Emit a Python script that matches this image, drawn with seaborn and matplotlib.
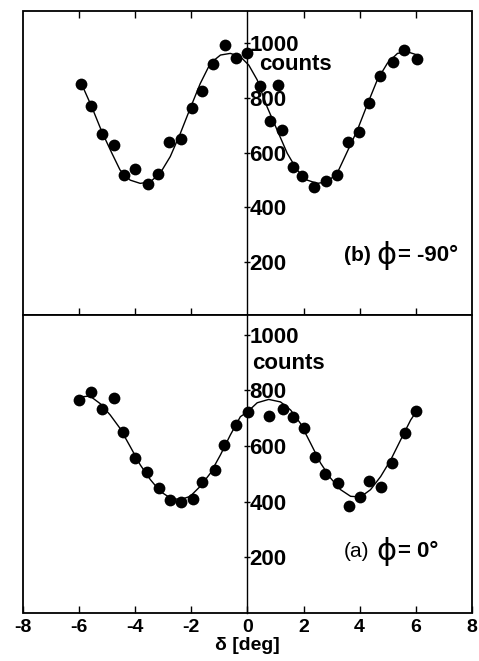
import numpy as np
import pandas as pd
import matplotlib
matplotlib.use("Agg")
import matplotlib.pyplot as plt
from matplotlib.patches import Rectangle
import seaborn as sns

# ─── DATA ──────────────────────────────────────────────────────────────────────
# panel (b), phi = -90 deg : measured counts
b_delta = [-5.93, -5.58, -5.17, -4.75, -4.39, -3.99, -3.56, -3.17, -2.79, -2.38,
           -1.98, -1.62, -1.24, -0.79, -0.40, 0.00, 0.46, 0.81, 1.10, 1.24,
           1.61, 1.96, 2.39, 2.79, 3.20, 3.60, 3.99, 4.35, 4.71, 5.19, 5.57, 6.03]
b_counts = [850, 771, 668, 629, 520, 539, 485, 521, 641, 652,
            764, 825, 926, 994, 947, 965, 845, 717, 846, 682,
            547, 516, 476, 498, 520, 638, 674, 782, 881, 933, 977, 941]

# panel (b) fitted curve
b_fit_delta = [-5.95, -5.55, -5.19, -4.83, -4.54, -4.18, -3.82, -3.46, -3.11, -2.75,
               -2.39, -2.04, -1.68, -1.32, -0.96, -0.61, -0.25, 0.05, 0.35, 0.70,
               1.06, 1.42, 1.77, 2.13, 2.49, 2.85, 3.20, 3.56, 3.92, 4.27,
               4.63, 4.99, 5.35, 5.70, 6.06]
b_fit_counts = [860, 768, 677, 598, 537, 500, 488, 494, 525, 586,
                671, 762, 853, 927, 957, 963, 951, 920, 866, 768,
                683, 598, 537, 500, 488, 494, 525, 604, 683, 775,
                866, 927, 963, 969, 957]

# panel (a), phi = 0 deg : measured counts
a_delta = [-6.00, -5.58, -5.19, -4.77, -4.44, -4.00, -3.57, -3.14, -2.76, -2.38,
           -1.94, -1.63, -1.17, -0.82, -0.42, 0.01, 0.77, 1.27, 1.62, 2.01,
           2.42, 2.75, 3.23, 3.62, 4.01, 4.35, 4.75, 5.15, 5.62, 6.02]
a_counts = [764, 794, 731, 771, 650, 556, 508, 449, 405, 399,
            411, 469, 515, 605, 674, 722, 708, 732, 705, 663,
            560, 498, 467, 386, 415, 475, 451, 540, 647, 725]

# panel (a) fitted curve
a_fit_delta = [-5.96, -5.61, -5.25, -4.89, -4.54, -4.18, -3.82, -3.46, -3.11, -2.75,
               -2.39, -2.04, -1.68, -1.32, -0.96, -0.61, -0.25, 0.00, 0.35, 0.76,
               1.18, 1.54, 1.89, 2.25, 2.61, 2.96, 3.32, 3.68, 4.04, 4.39,
               4.75, 5.11, 5.46, 5.82, 6.06]
a_fit_counts = [776, 779, 752, 711, 663, 598, 532, 479, 437, 413,
                407, 419, 455, 502, 568, 639, 705, 722, 755, 767,
                758, 729, 681, 610, 538, 485, 443, 419, 417, 443,
                490, 550, 621, 693, 729]

x_ticks = [-8, -6, -4, -2, 0, 2, 4, 6, 8]
inner_x_ticks = [-6, -4, -2, 2, 4, 6]
y_ticks = [200, 400, 600, 800, 1000]

# ─── STYLE ─────────────────────────────────────────────────────────────────────
sns.set_theme(style="white")
plt.rcParams["font.family"] = ["Liberation Sans", "DejaVu Sans"]
plt.rcParams["axes.unicode_minus"] = False
plt.rcParams["text.color"] = "black"
plt.rcParams["axes.labelcolor"] = "black"
plt.rcParams["xtick.color"] = "black"
plt.rcParams["ytick.color"] = "black"

fig = plt.figure(figsize=(4.79, 6.61), dpi=100)
ax_b = fig.add_axes([0.048, 0.5234, 0.937, 0.4600])
ax_a = fig.add_axes([0.048, 0.0726, 0.937, 0.4508])


def draw_panel(ax, dx, dy, fx, fy, ylim, tag, tag_weight, angle, label_y,
               counts_x, counts_y):
    pts = pd.DataFrame({"delta": dx, "counts": dy})
    fit = pd.DataFrame({"delta": fx, "counts": fy})
    sns.lineplot(data=fit, x="delta", y="counts", ax=ax, color="black",
                 lw=1.0, estimator=None, sort=True, zorder=2)
    sns.scatterplot(data=pts, x="delta", y="counts", ax=ax, color="black",
                    s=72, edgecolor="black", linewidth=0, zorder=3)

    ax.set_xlim(-8, 8)
    ax.set_ylim(*ylim)
    ax.set_xlabel("")
    ax.set_ylabel("")

    # centre axis carries the counts scale
    for side in ["top", "bottom", "right"]:
        ax.spines[side].set_visible(False)
    ax.spines["left"].set_position(("data", 0))
    ax.spines["left"].set_linewidth(1.0)
    ax.spines["left"].set_color("black")
    ax.set_yticks(y_ticks)
    ax.set_yticklabels([str(v) for v in y_ticks])
    ax.tick_params(axis="y", left=True, direction="inout", length=5, width=1.0,
                   pad=-4, labelsize=16, colors="black")
    for t in ax.get_yticklabels():
        t.set_horizontalalignment("left")
        t.set_fontweight("bold")

    # outer frame
    ax.add_patch(Rectangle((0, 0), 1, 1, transform=ax.transAxes, fill=False,
                           lw=1.3, edgecolor="black", clip_on=False, zorder=5))

    ax.text(counts_x, counts_y, "counts", fontsize=16, fontweight="bold",
            ha="left", va="center")
    # panel label: "(x)  ϕ = angle"
    ax.text(3.45, label_y, tag, fontsize=15, fontweight=tag_weight,
            ha="left", va="center")
    ax.text(4.97, label_y, "ϕ", fontsize=22, ha="center", va="center",
            family=["DejaVu Sans"])
    ax.text(5.36, label_y, angle, fontsize=16, fontweight="bold",
            ha="left", va="center")


draw_panel(ax_b, b_delta, b_counts, b_fit_delta, b_fit_counts, (7, 1118),
           "(b)", "bold", "= -90°", 226, 0.43, 923)
draw_panel(ax_a, a_delta, a_counts, a_fit_delta, a_fit_counts, (0, 1070),
           "(a)", "normal", "= 0°", 221, 0.17, 897)

# x ticks: upper panel has inward ticks top and bottom, no labels
ax_b.set_xticks(inner_x_ticks)
ax_b.tick_params(axis="x", top=True, bottom=True, direction="in", length=5,
                 width=1.0, labelbottom=False, colors="black")

ax_a.set_xticks(x_ticks)
ax_a.set_xticklabels([str(v) for v in x_ticks])
ax_a.tick_params(axis="x", bottom=True, top=False, direction="in", length=5,
                 width=1.0, pad=4, labelsize=14, colors="black")
for t in ax_a.get_xticklabels():
    t.set_fontweight("bold")
ax_a.set_xlabel("δ [deg]", fontsize=14, fontweight="bold", labelpad=1)

fig.savefig("out.png", dpi=100)
